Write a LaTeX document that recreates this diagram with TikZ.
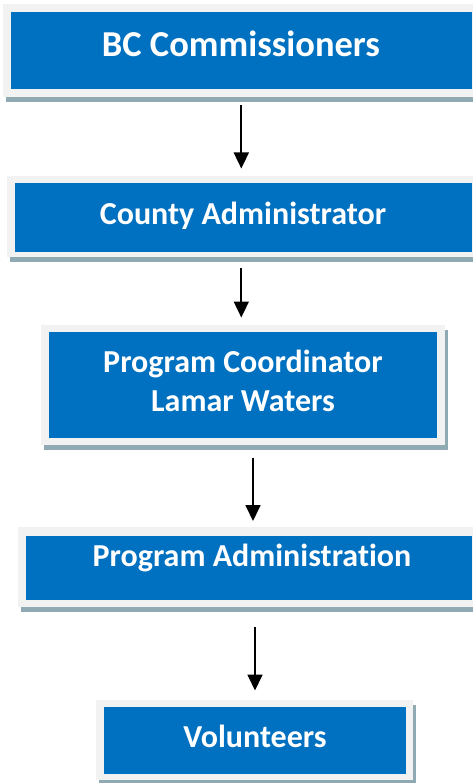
\documentclass[tikz,border=0pt]{standalone}
\usepackage{fontspec}
\setmainfont[Ligatures=NoCommon,RawFeature={-liga;-clig;-calt;-dlig}]{Carlito}
\usetikzlibrary{arrows.meta}
\definecolor{boxblue}{HTML}{0070C0}
\definecolor{framegray}{HTML}{F2F2F2}
\definecolor{shadowgray}{RGB}{143,170,179}
\tikzset{
  bluebox/.style={fill=boxblue, draw=none, inner sep=0pt},
  lbl/.style={text=white, font=\bfseries\fontsize{32}{32}\selectfont, inner sep=0pt, anchor=base},
  bigl/.style={lbl, font=\bfseries\fontsize{36.5}{36.5}\selectfont},
  conn/.style={line width=1.8pt, -{Triangle[width=15pt,length=16pt]}, shorten >=-0.5pt}
}
\newcommand{\orgbox}[6]{%
  \fill[shadowgray] (#2+3,-#3-5) rectangle (#4+3,-#5-5);
  \fill[framegray] (#2,-#3) rectangle (#4,-#5);
}
\begin{document}
\begin{tikzpicture}[x=1pt,y=1pt]
\useasboundingbox (0,0) rectangle (473,-783);
\clip (0,0) rectangle (473,-783);
\fill[white] (0,0) rectangle (473,-783);
% frames and shadows
\orgbox{f1}{3}{4}{480}{97}{}
\orgbox{f2}{7}{176}{480}{257}{}
\orgbox{f3}{41}{325}{445}{445}{}
\orgbox{f4}{18}{527}{480}{607}{}
\orgbox{f5}{96}{700}{413}{780}{}
% blue boxes
\node[bluebox, minimum width=461pt, minimum height=77pt] (b1) at (241.5,-50.5) {};
\node[bluebox, minimum width=457pt, minimum height=69pt] (b2) at (243.5,-217.5) {};
\node[bluebox, minimum width=388pt, minimum height=106pt] (b3) at (243,-385) {};
\node[bluebox, minimum width=446pt, minimum height=64pt] (b4) at (249,-568) {};
\node[bluebox, minimum width=302pt, minimum height=67pt] (b5) at (255,-740.5) {};
% labels
\node[bigl] (t1) at (241,-57) {BC Commissioners};
\node[lbl] (t2) at (243,-224.3) {County Administrator};
\node[lbl] (t3a) at (243,-372.7) {Program Coordinator};
\node[lbl] (t3b) at (243,-411) {Lamar Waters};
\node[lbl] (t4) at (252,-566.7) {Program Administration};
\node[lbl] (t5) at (255,-747) {Volunteers};
% arrows
\coordinate (a1s) at (241.3,-105);
\coordinate (a1e) at (241.3,-168);
\coordinate (a2s) at (241.3,-268);
\coordinate (a2e) at (241.3,-317);
\coordinate (a3s) at (253,-458);
\coordinate (a3e) at (253,-520.5);
\coordinate (a4s) at (255,-627);
\coordinate (a4e) at (255,-690);
\draw[conn] (a1s) -- (a1e);
\draw[conn] (a2s) -- (a2e);
\draw[conn] (a3s) -- (a3e);
\draw[conn] (a4s) -- (a4e);
\end{tikzpicture}
\end{document}
